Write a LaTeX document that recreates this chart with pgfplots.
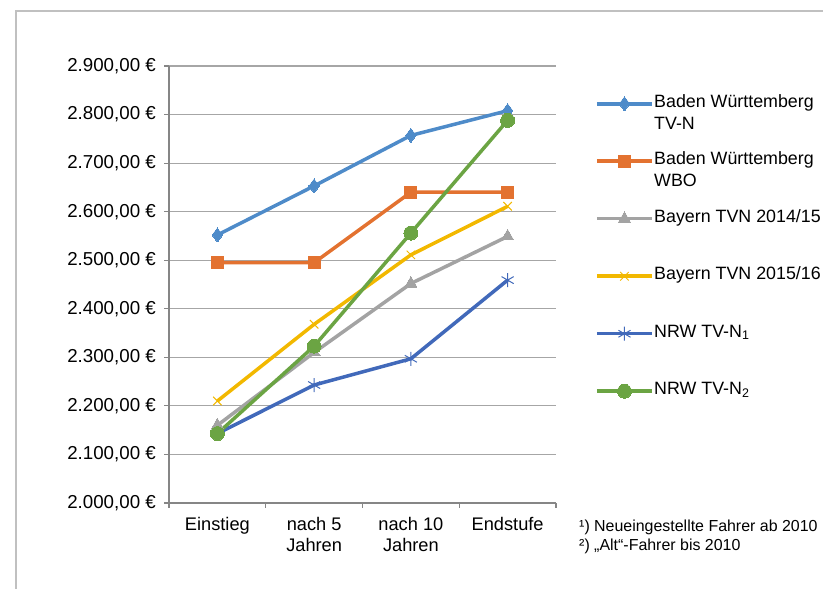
\documentclass[border=0pt]{standalone}
\usepackage{fontspec}
\setmainfont{Liberation Sans}
\usepackage{pgfplots}
\pgfplotsset{compat=1.18}

\definecolor{cBlue}{HTML}{4E8BC9}
\definecolor{cOrange}{HTML}{E37230}
\definecolor{cGray}{HTML}{A3A3A3}
\definecolor{cYellow}{HTML}{F2B800}
\definecolor{cDark}{HTML}{4169BA}
\definecolor{cGreen}{HTML}{6BA443}
\definecolor{gridc}{HTML}{A6A6A6}
\definecolor{axisc}{HTML}{868686}
\definecolor{framec}{HTML}{C0C0C0}

% legend text: first line on the baseline, further lines hang below
\newcommand{\lent}[1]{\raisebox{0pt}[\ht\strutbox][0pt]{\parbox[t]{220bp}{\strut #1}}}

\begin{document}
\begin{tikzpicture}[font=\fontsize{18.3}{22}\selectfont]
\begin{scope}
\clip (0bp,0bp) rectangle (823bp,589bp);
\draw[framec, line width=1.3bp] (16bp,-20bp) rectangle (900bp,578bp);

\begin{axis}[
  at={(169bp,86bp)}, anchor=south west,
  scale only axis, width=387bp, height=437bp,
  xmin=-0.5, xmax=3.5, ymin=2000, ymax=2900,
  axis lines=left, axis line style={-, axisc, line width=1.4bp},
  tick align=outside, major tick length=5bp,
  tick style={axisc, line width=1.2bp},
  xtick={-0.5,0.5,1.5,2.5,3.5}, xticklabels={},
  extra x ticks={0,1,2,3},
  extra x tick labels={Einstieg,{nach 5\\Jahren},{nach 10\\Jahren},Endstufe},
  extra x tick style={major tick length=0pt, grid=none},
  xticklabel style={align=center, font=\fontsize{18.3}{21}\selectfont, inner sep=0pt, anchor=north, yshift=-14bp},
  ytick={2000,2100,...,2900},
  yticklabel={\pgfmathprintnumber[fixed,fixed zerofill,precision=2,use comma]{\tick}~€},
  yticklabel style={inner sep=0pt, anchor=east, xshift=-8bp, font=\fontsize{18.8}{22}\selectfont},
  /pgf/number format/assume math mode=true,
  ymajorgrids, grid style={gridc, line width=1.2bp},
  every axis plot/.append style={line width=3.5bp},
  legend style={at={(1.1008,0.961)}, anchor=north west, draw=none, fill=none,
    inner sep=0pt, row sep=27.5bp, column sep=0.5bp, nodes={inner sep=0pt},
    font=\fontsize{17.9}{22}\selectfont},
  legend cell align=left,
  legend image code/.code={\path[draw=none, fill=none] (0bp,-13bp) -- (0bp,17bp);
    \draw[#1, line width=3.5bp, mark repeat=2, mark phase=2]
    plot coordinates {(0bp,-3.5bp) (27.5bp,-3.5bp) (55bp,-3.5bp)};},
  clip=false,
]
\addplot[cBlue, mark=diamond*, mark size=7bp, mark options={solid, fill=cBlue, line width=0pt}]
  coordinates {(0,2552) (1,2653) (2,2757) (3,2808)};
\addlegendentry{\lent{Baden Württemberg\\TV-N}}
\addplot[cOrange, mark=square*, mark size=6bp, mark options={solid, fill=cOrange, line width=0pt}]
  coordinates {(0,2495) (1,2495) (2,2640) (3,2640)};
\addlegendentry{\lent{Baden Württemberg\\WBO}}
\addplot[cGray, mark=triangle*, mark size=7bp, mark options={solid, fill=cGray, line width=0pt}]
  coordinates {(0,2160) (1,2310) (2,2452) (3,2549)};
\addlegendentry{\lent{Bayern TVN 2014/15}}
\addplot[cYellow, mark=x, mark size=6bp, mark options={solid, line width=1bp}]
  coordinates {(0,2210) (1,2368) (2,2511) (3,2611)};
\addlegendentry{\lent{Bayern TVN 2015/16}}
\addplot[cDark, mark=asterisk, mark size=7bp, mark options={solid, line width=1bp}]
  coordinates {(0,2143) (1,2243) (2,2297) (3,2459)};
\addlegendentry{\lent{NRW TV-N\textsubscript{1}}}
\addplot[cGreen, mark=*, mark size=7bp, mark options={solid, fill=cGreen, line width=0pt}]
  coordinates {(0,2143) (1,2323) (2,2556) (3,2788)};
\addlegendentry{\lent{NRW TV-N\textsubscript{2}}}
\end{axis}

\node[anchor=base west, inner sep=0pt, font=\fontsize{16}{18}\selectfont] at (579bp,57bp) {¹) Neueingestellte Fahrer ab 2010};
\node[anchor=base west, inner sep=0pt, font=\fontsize{16}{18}\selectfont] at (579bp,39bp) {²) „Alt“-Fahrer bis 2010};
\end{scope}
\pgfresetboundingbox
\path[use as bounding box] (0bp,0bp) rectangle (823bp,589bp);
\end{tikzpicture}
\end{document}
